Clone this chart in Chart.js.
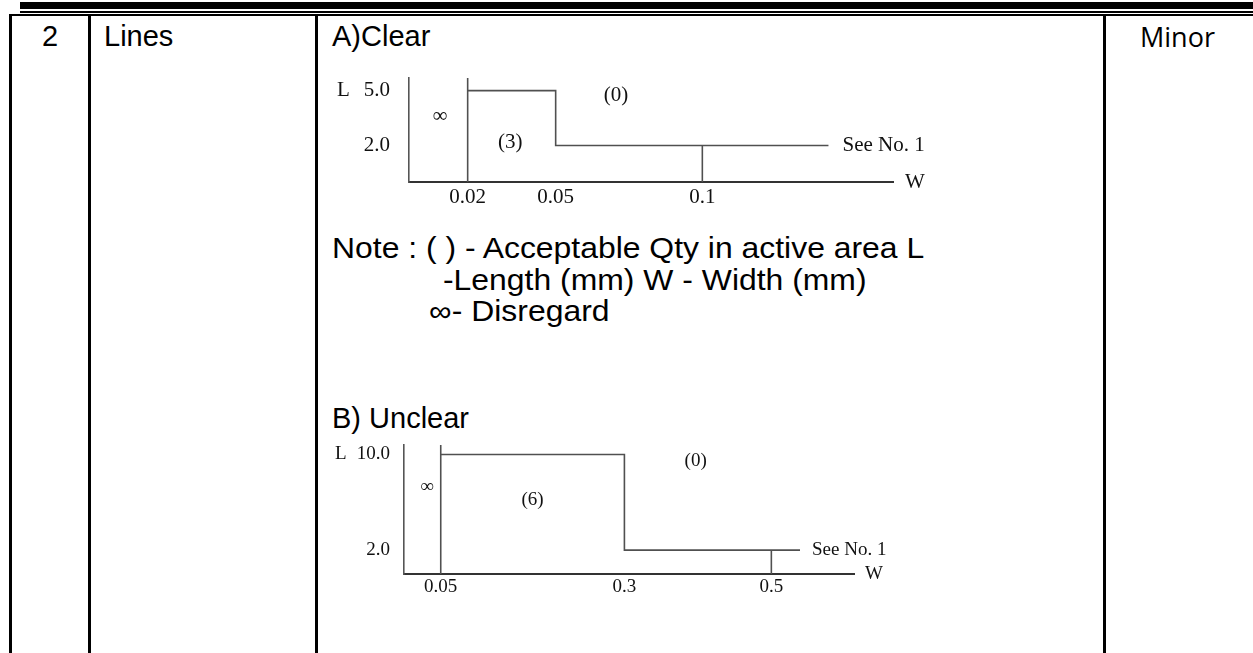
<!DOCTYPE html>
<html><head><meta charset="utf-8">
<script src="https://cdn.jsdelivr.net/npm/chart.js@4.4.1/dist/chart.umd.min.js"></script>
<style>
html,body{margin:0;padding:0;background:#fff;width:1253px;height:653px;overflow:hidden;position:relative}
.r{position:absolute;background:#000}
.t{position:absolute;font-family:"Liberation Sans",Arial,sans-serif;font-size:29px;line-height:29px;color:#000;white-space:pre}
.m{font-family:"Open Sans",sans-serif;font-size:27px;line-height:27px}
.s{transform:scaleX(1.1);transform-origin:0 50%}
.c{position:absolute}
</style></head><body>
<div class="r" style="left:20px;top:2px;width:1233px;height:7px"></div>
<div class="r" style="left:20px;top:11px;width:1233px;height:2px"></div>
<div class="r" style="left:9px;top:14px;width:1244px;height:2px"></div>
<div class="r" style="left:9px;top:14px;width:3px;height:639px"></div>
<div class="r" style="left:88px;top:14px;width:3px;height:639px"></div>
<div class="r" style="left:315px;top:14px;width:3px;height:639px"></div>
<div class="r" style="left:1103px;top:14px;width:3px;height:639px"></div>

<div class="t" style="left:10px;width:80px;text-align:center;top:22px">2</div>
<div class="t" style="left:104px;top:22px">Lines</div>
<div class="t" style="left:332px;top:22px">A)Clear</div>
<div class="t m" style="left:1140px;top:23px">Minor</div>
<div class="t s" style="left:332px;top:234px">Note : ( ) - Acceptable Qty in active area L</div>
<div class="t s" style="left:443px;top:266px">-Length (mm) W - Width (mm)</div>
<div class="t s" style="left:429px;top:297px">∞- Disregard</div>
<div class="t" style="left:332px;top:404px">B) Unclear</div>

<div class="c" style="left:330px;top:60px;width:620px;height:160px"><canvas id="cA" width="620" height="160"></canvas></div>
<div class="c" style="left:330px;top:430px;width:600px;height:180px"><canvas id="cB" width="600" height="180"></canvas></div>

<script>
// ---- Diagram A) Clear ----
const wBreaksA = [0.02, 0.05, 0.1];
const wTickLabelsA = ['0.02', '0.05', '0.1'];
const lLevelsA = [5.0, 2.0];
const lTickLabelsA = ['5.0', '2.0'];
const qtyA = ['∞', '(3)', '(0)'];
const seeLimitA = 0.143;
const wAxisMaxA = 0.165;
const lAxisMaxA = 5.69;

// ---- Diagram B) Unclear ----
const wBreaksB = [0.05, 0.3, 0.5];
const wTickLabelsB = ['0.05', '0.3', '0.5'];
const lLevelsB = [10.0, 2.0];
const lTickLabelsB = ['10.0', '2.0'];
const qtyB = ['∞', '(6)', '(0)'];
const seeLimitB = 0.539;
const wAxisMaxB = 0.6125;
const lAxisMaxB = 10.79;

const seeText = 'See No. 1';
const SERIF = '"Liberation Serif","Times New Roman",serif';

const diagramText = {
  id: 'diagramText',
  afterDraw(chart, args, o) {
    const {ctx, chartArea, scales: {x, y}} = chart;
    ctx.save();
    ctx.fillStyle = '#111';
    ctx.font = o.size + 'px ' + SERIF;
    ctx.textBaseline = 'middle';
    ctx.textAlign = 'center';
    o.regions.forEach(r => ctx.fillText(r.text, x.getPixelForValue(r.w), y.getPixelForValue(r.l)));
    ctx.textAlign = 'left';
    ctx.fillText(seeText, x.getPixelForValue(o.seeW) + o.seeGap, y.getPixelForValue(o.seeL));
    ctx.fillText('W', chartArea.right + o.wGap, chartArea.bottom);
    ctx.fillText('L', chartArea.left - o.lOffset, y.getPixelForValue(o.lTop));
    ctx.restore();
  }
};

function makeDiagram(id, d) {
  const lineStyle = {showLine: true, pointRadius: 0, borderColor: '#505050', borderWidth: 1.6, fill: false, tension: 0};
  const [w0, w1, w2] = d.wBreaks;
  const [lTop, lLow] = d.lLevels;
  const datasets = [
    Object.assign({data: [{x: w0, y: 0}, {x: w0, y: d.lMax}]}, lineStyle),
    Object.assign({data: [{x: w0, y: lTop}, {x: w1, y: lTop}, {x: w1, y: lLow}, {x: d.seeLimit, y: lLow}]}, lineStyle),
    Object.assign({data: [{x: w2, y: 0}, {x: w2, y: lLow}]}, lineStyle)
  ];
  const xLab = new Map(d.wBreaks.map((v, i) => [v, d.wLabels[i]]));
  const yLab = new Map(d.lLevels.map((v, i) => [v, d.lLabels[i]]));
  new Chart(document.getElementById(id), {
    type: 'scatter',
    data: {datasets},
    plugins: [diagramText],
    options: {
      responsive: false, animation: false, events: [],
      layout: {padding: d.padding},
      plugins: {legend: {display: false}, tooltip: {enabled: false},
        diagramText: Object.assign({size: d.font, seeW: d.seeLimit, seeL: lLow, lTop: lTop}, d.text)},
      scales: {
        x: {type: 'linear', min: 0, max: d.wMax,
          grid: {display: false, drawTicks: false}, border: {display: true, color: '#333', width: 2},
          afterBuildTicks: s => { s.ticks = d.wBreaks.map(v => ({value: v})); },
          afterFit: s => { s.height = d.xH; s.paddingLeft = 0; s.paddingRight = 0; },
          ticks: {autoSkip: false, maxRotation: 0, padding: d.xPad, color: '#111',
            font: {family: SERIF, size: d.font}, callback: v => xLab.get(v)}},
        y: {type: 'linear', min: 0, max: d.lMax,
          grid: {display: false, drawTicks: false}, border: {display: true, color: '#555', width: 1.6},
          afterBuildTicks: s => { s.ticks = d.lLevels.slice().sort((a, b) => a - b).map(v => ({value: v})); },
          afterFit: s => { s.width = d.yW; s.paddingTop = 0; s.paddingBottom = 0; },
          ticks: {autoSkip: false, padding: d.yPad, color: '#111',
            font: {family: SERIF, size: d.font}, callback: v => yLab.get(v)}}
      }
    }
  });
}

makeDiagram('cA', {
  wBreaks: wBreaksA, wLabels: wTickLabelsA, lLevels: lLevelsA, lLabels: lTickLabelsA,
  seeLimit: seeLimitA, wMax: wAxisMaxA, lMax: lAxisMaxA,
  font: 21, padding: {left: 0, top: 18, right: 57, bottom: 0}, yW: 79, xH: 38, xPad: 3, yPad: 19,
  text: {seeGap: 14, wGap: 12, lOffset: 72,
    regions: [{text: qtyA[0], w: 0.0106, l: 3.61}, {text: qtyA[1], w: 0.0345, l: 2.15}, {text: qtyA[2], w: 0.0706, l: 4.76}]}
});

makeDiagram('cB', {
  wBreaks: wBreaksB, wLabels: wTickLabelsB, lLevels: lLevelsB, lLabels: lTickLabelsB,
  seeLimit: seeLimitB, wMax: wAxisMaxB, lMax: lAxisMaxB,
  font: 19, padding: {left: 0, top: 15, right: 76, bottom: 0}, yW: 74, xH: 36, xPad: 2, yPad: 14,
  text: {seeGap: 12, wGap: 11, lOffset: 69,
    regions: [{text: qtyB[0], w: 0.0313, l: 7.27}, {text: qtyB[1], w: 0.175, l: 6.19}, {text: qtyB[2], w: 0.397, l: 9.45}]}
});
</script>
</body></html>
